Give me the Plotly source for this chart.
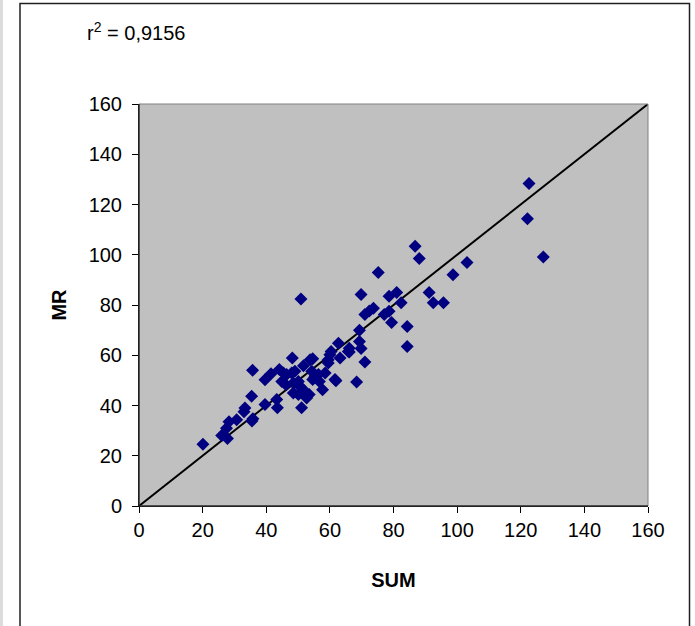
import plotly.graph_objects as go

sum_vals = [20.1, 26.0, 27.8, 27.5, 28.3, 30.7, 33.0, 33.3, 35.8, 35.5,
            35.4, 35.7, 39.6, 39.6, 41.5, 43.3, 43.5, 44.1, 44.9, 45.4,
            46.4, 46.2, 48.0, 48.2, 48.5, 48.5, 49.0, 50.1, 50.1, 50.6,
            50.9, 51.1, 51.7, 51.7, 51.7, 52.7, 53.5, 53.8, 54.3, 54.6,
            54.6, 55.3, 56.4, 56.7, 57.7, 58.5, 59.5, 60.0, 60.4, 61.9,
            62.7, 63.2, 65.8, 66.1, 68.4, 69.3, 69.3, 69.8, 69.8, 71.0,
            71.0, 72.4, 73.7, 75.2, 77.1, 78.6, 78.6, 79.4, 81.0, 82.4,
            84.3, 84.3, 86.8, 88.1, 91.2, 92.5, 95.7, 98.7, 103.1, 122.1,
            122.6, 127.1, 61.6, 59.5, 66.1]
mr_vals = [24.6, 28.1, 26.9, 30.9, 33.5, 34.3, 37.5, 39.0, 34.7, 33.8,
           43.7, 54.0, 40.4, 50.2, 52.6, 42.4, 39.1, 54.3, 49.6, 52.9,
           52.3, 48.3, 52.9, 58.9, 49.0, 45.0, 53.6, 49.6, 44.4, 47.6,
           82.4, 39.1, 46.3, 45.0, 55.8, 43.0, 44.4, 58.2, 53.6, 50.3,
           58.6, 51.6, 52.3, 49.6, 46.3, 52.9, 56.9, 60.2, 61.5, 49.9,
           64.8, 58.9, 61.5, 62.8, 49.4, 70.0, 65.5, 62.7, 84.2, 57.3,
           76.2, 77.6, 78.7, 92.9, 76.2, 77.5, 83.5, 73.0, 85.0, 80.9,
           71.4, 63.5, 103.4, 98.5, 85.0, 80.9, 80.9, 92.0, 96.9, 114.3,
           128.4, 99.1, 50.3, 58.2, 61.3]
identity_line = [0, 160]
tick_vals = [0, 20, 40, 60, 80, 100, 120, 140, 160]
r2_label = "r<sup>2</sup> = 0,9156"

fig = go.Figure()
fig.add_trace(go.Scatter(x=identity_line, y=identity_line, mode="lines",
                         line=dict(color="black", width=2), hoverinfo="skip",
                         showlegend=False))
fig.add_trace(go.Scatter(x=sum_vals, y=mr_vals, mode="markers",
                         marker=dict(symbol="diamond", size=10, color="#000080",
                                     line=dict(width=0)),
                         showlegend=False))

L, R, T, B = 139, 47, 104, 120
W, H = 695, 626
pw, ph = W - L - R, H - T - B

def px(xp):
    return (xp - L) / pw

def py(yp):
    return (H - B - yp) / ph

FAM = "Liberation Sans, Arial, sans-serif"
tick_font = dict(family=FAM, size=20, color="black")
title_font = dict(family=FAM, size=20, color="black")
axis_common = dict(range=[0, 160], tickvals=tick_vals, ticks="outside", ticklen=6,
                   tickcolor="black", showline=True, linecolor="black", linewidth=1,
                   showgrid=False, zeroline=False, tickfont=tick_font, fixedrange=True,
                   automargin=False)

fig.update_layout(
    width=W, height=H,
    margin=dict(l=L, r=R, t=T, b=B),
    paper_bgcolor="white",
    plot_bgcolor="#c0c0c0",
    font=tick_font,
    xaxis=dict(axis_common, title=dict(text="<b>SUM</b>", font=title_font, standoff=32)),
    yaxis=dict(axis_common, ticklabelstandoff=6,
               title=dict(text="<b>MR</b>", font=title_font, standoff=16)),
    shapes=[
        dict(type="rect", xref="paper", yref="paper", x0=0, x1=1, y0=0, y1=1,
             line=dict(color="#808080", width=1), layer="above"),
        dict(type="line", xref="paper", yref="paper", x0=0, x1=0, y0=0, y1=1,
             line=dict(color="black", width=1)),
        dict(type="line", xref="paper", yref="paper", x0=0, x1=1, y0=0, y1=0,
             line=dict(color="black", width=1)),
        dict(type="rect", xref="paper", yref="paper", x0=px(20), x1=px(689.5),
             y0=py(640), y1=py(3.5), line=dict(color="#202020", width=1.5)),
        dict(type="rect", xref="paper", yref="paper", x0=px(0), x1=px(3),
             y0=py(640), y1=py(-5), line=dict(width=0), fillcolor="#dcdcdc"),
    ],
    annotations=[
        dict(text=r2_label, xref="paper", yref="paper", x=px(85), y=py(31),
             xanchor="left", yanchor="middle", showarrow=False,
             font=dict(family=FAM, size=20, color="black")),
    ],
)

fig.write_html("out.html", config={"displayModeBar": False},
               post_script="document.body.style.margin='0';")
